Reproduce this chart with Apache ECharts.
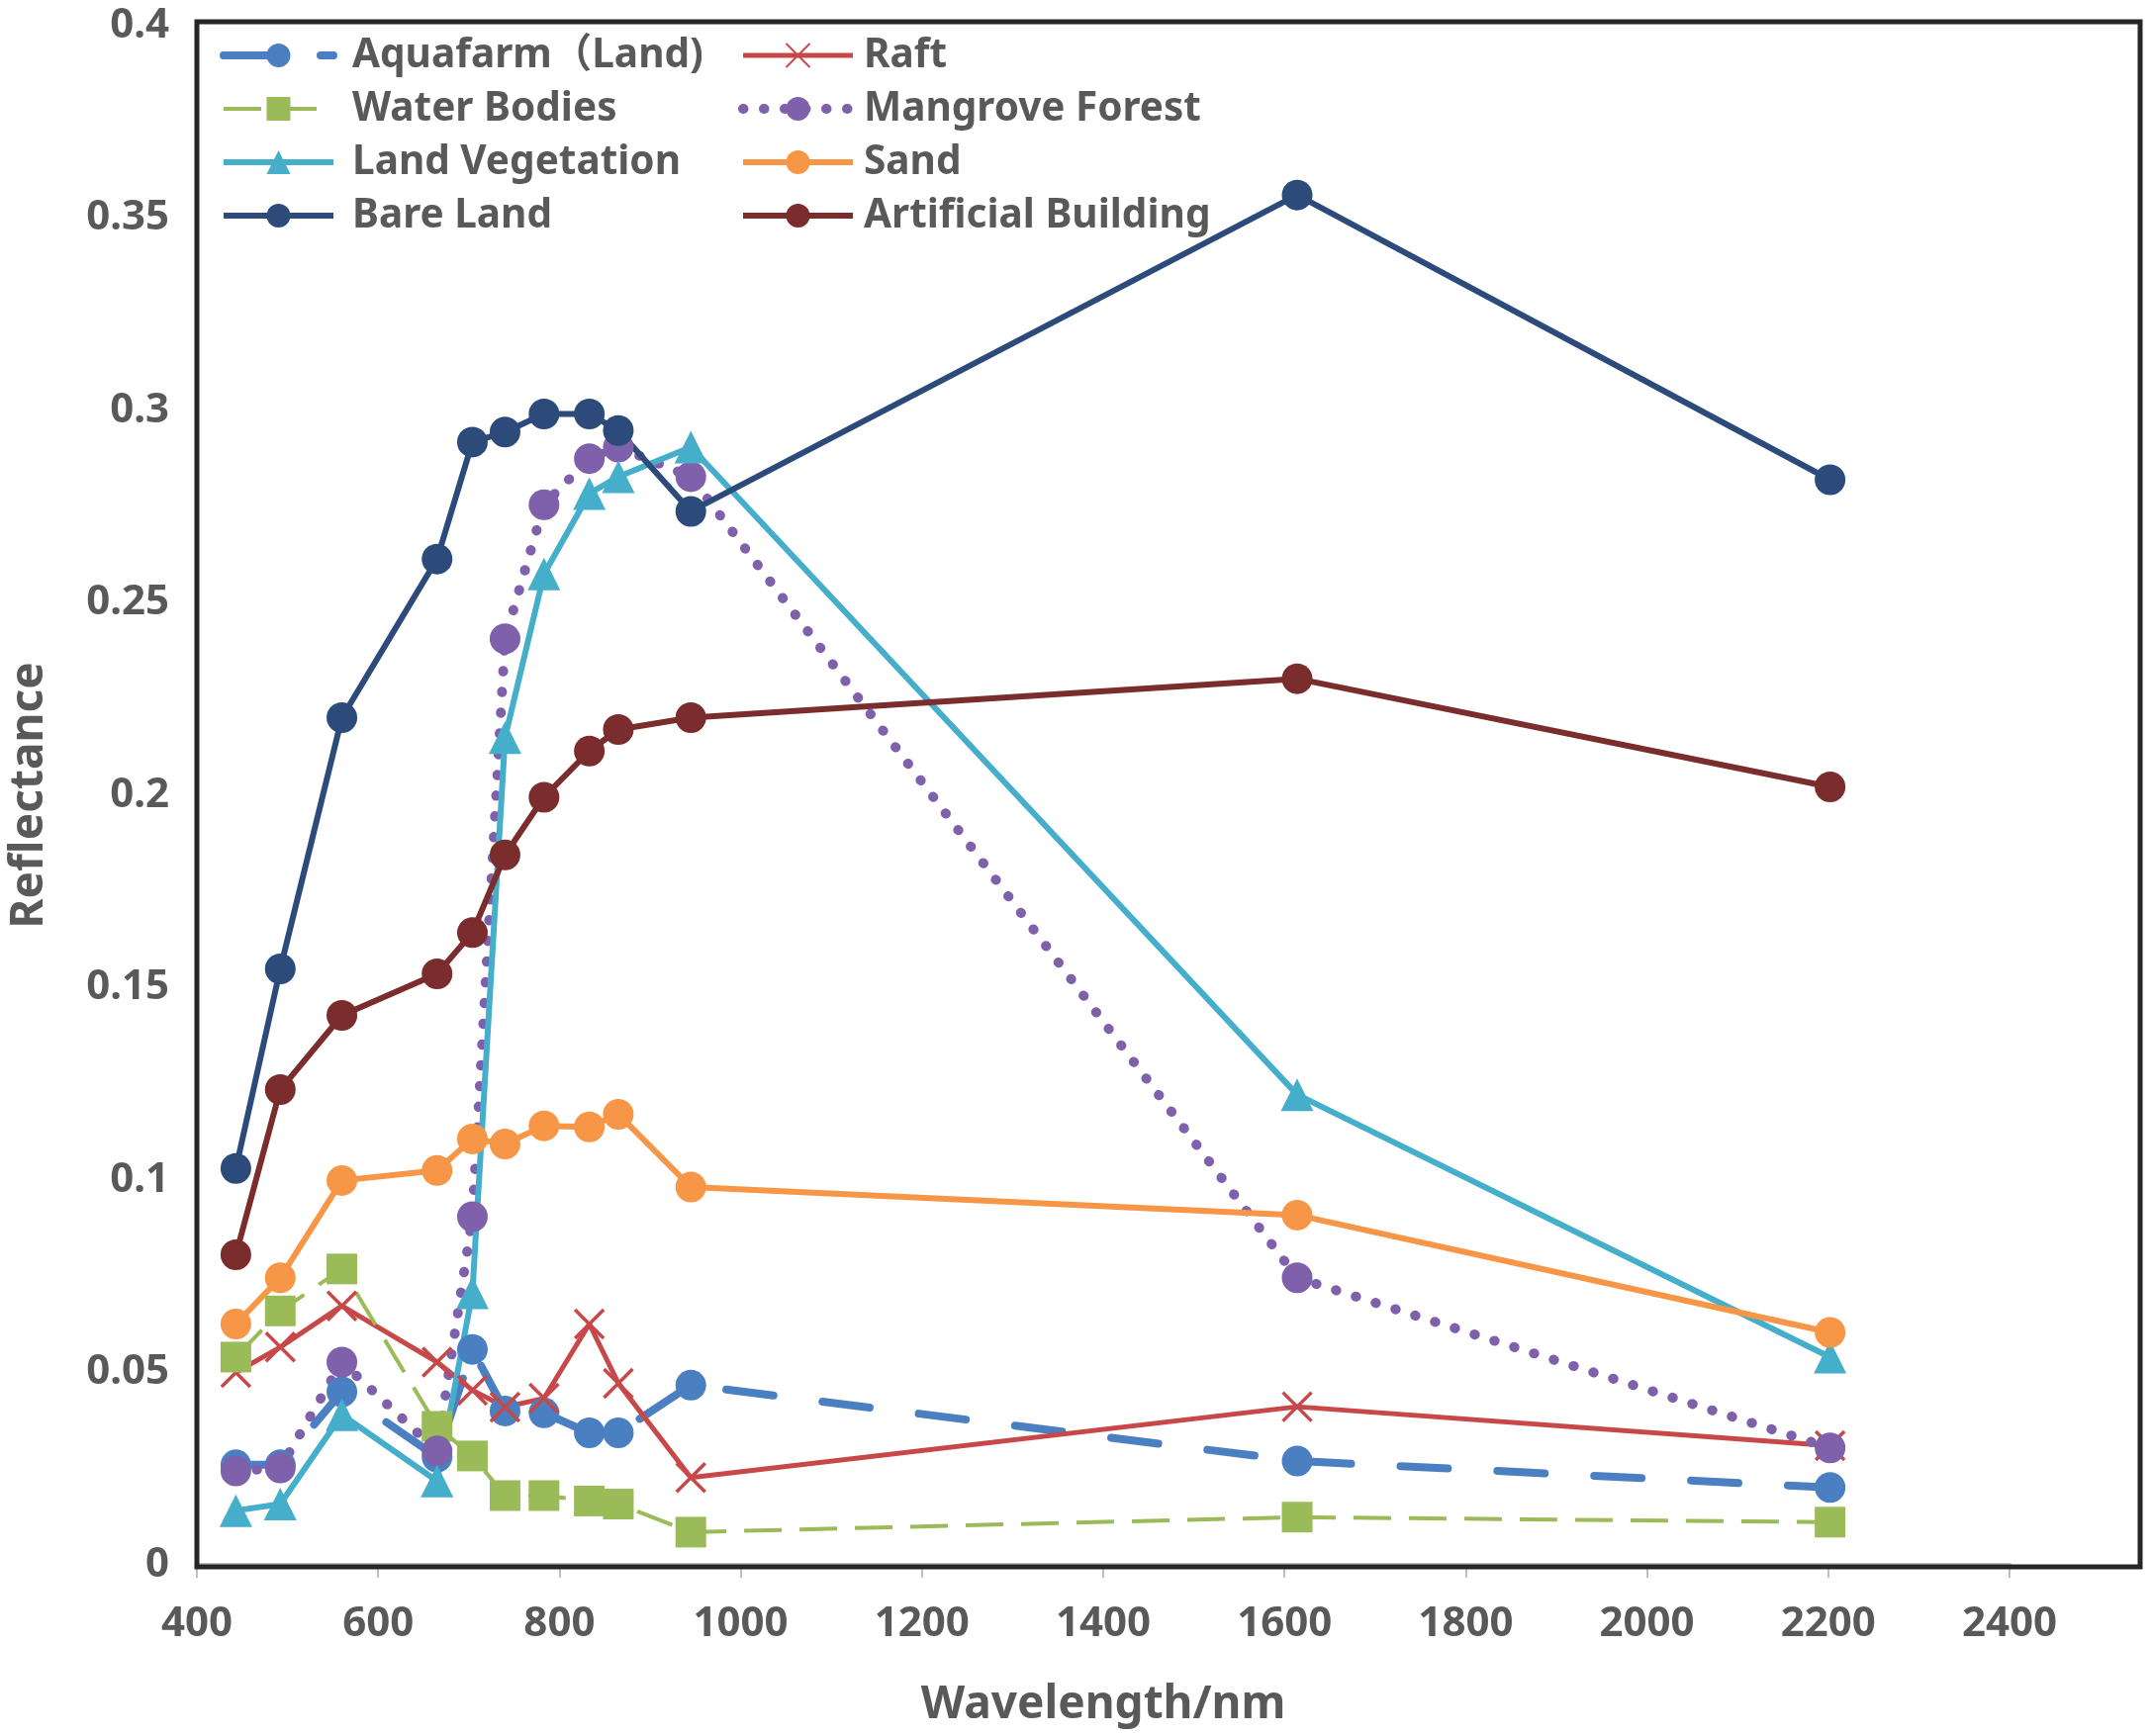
<!DOCTYPE html>
<html>
<head>
<meta charset="utf-8">
<script src="https://cdn.jsdelivr.net/npm/echarts@6/dist/echarts.min.js"></script>
<style>
html,body{margin:0;padding:0;background:#fff;}
#chart{width:2175px;height:1755px;}
</style>
</head>
<body>
<div id="chart"></div>
<script>
// Wavelengths (nm)
const wavelengths = [443, 492, 560, 665, 704, 740, 783, 833, 865, 945, 1614, 2202];
// Reflectance per class
const aquafarm   = [0.026, 0.026, 0.045, 0.028, 0.056, 0.040, 0.0395, 0.0343, 0.0343, 0.0467, 0.027, 0.0201];
const raft       = [0.050, 0.0566, 0.0673, 0.0527, 0.0454, 0.041, 0.0433, 0.0626, 0.0472, 0.0227, 0.0411, 0.031];
const water      = [0.054, 0.066, 0.0769, 0.036, 0.0283, 0.018, 0.018, 0.0166, 0.0158, 0.0085, 0.0124, 0.0111];
const mangrove   = [0.0244, 0.0252, 0.0527, 0.0296, 0.0905, 0.2407, 0.2755, 0.2875, 0.2905, 0.2828, 0.0746, 0.0304];
const landVeg    = [0.0141, 0.0158, 0.039, 0.0218, 0.0707, 0.215, 0.2575, 0.2784, 0.2828, 0.2905, 0.1222, 0.054];
const sand       = [0.0626, 0.0746, 0.0999, 0.1025, 0.1107, 0.1094, 0.1141, 0.1138, 0.1171, 0.0982, 0.0909, 0.0604];
const bareLand   = [0.103, 0.1549, 0.2202, 0.2614, 0.2918, 0.2944, 0.2991, 0.2991, 0.2948, 0.2738, 0.3560, 0.2820];
const artificial = [0.0806, 0.1235, 0.1428, 0.1536, 0.1643, 0.1845, 0.1995, 0.2115, 0.2171, 0.2202, 0.2303, 0.2022];

const names = ['Aquafarm（Land)', 'Raft', 'Water Bodies', 'Mangrove Forest', 'Land Vegetation', 'Sand', 'Bare Land', 'Artificial Building'];
const xTitle = 'Wavelength/nm';

const FONT = '"Noto Sans", "Noto Sans CJK SC", sans-serif';
const TXT = '#595959';

function pairs(vals){ return wavelengths.map((w,i)=>[w, vals[i]]); }

const xMark = 'path://M0,0 L10,10 M10,0 L0,10';

const seriesDefs = [
  {name:names[0], data:aquafarm, color:'#4a7fc1', symbol:'circle', size:31, lw:8, type:[48,50], cap:'round'},
  {name:names[1], data:raft, color:'#c8484a', symbol:xMark, size:29, lw:5, type:'solid', border:true},
  {name:names[2], data:water, color:'#9bbb59', symbol:'rect', size:31, lw:4, type:[38,18]},
  {name:names[3], data:mangrove, color:'#7e60ab', symbol:'circle', size:31, lw:10, type:[0.5,20.5], cap:'round'},
  {name:names[4], data:landVeg, color:'#45aecb', symbol:'triangle', size:33, lw:6},
  {name:names[5], data:sand, color:'#f79646', symbol:'circle', size:31, lw:6},
  {name:names[6], data:bareLand, color:'#2c4b7b', symbol:'circle', size:31, lw:6},
  {name:names[7], data:artificial, color:'#7b2c2c', symbol:'circle', size:31, lw:6}
];

const series = seriesDefs.map(d => ({
  name: d.name,
  type: 'line',
  data: pairs(d.data),
  symbol: d.symbol,
  symbolSize: d.size,
  showAllSymbol: true,
  z: 3,
  lineStyle: {color: d.color, width: d.lw, type: d.type || 'solid', cap: d.cap || 'butt'},
  itemStyle: d.border ? {color: 'rgba(0,0,0,0)', borderColor: d.color, borderWidth: 3.5} : {color: d.color, borderWidth: 0},
  emphasis: {disabled: true},
  animation: false
}));

const legendCommon = {
  orient: 'vertical',
  top: 34,
  padding: 0,
  itemWidth: 111,
  itemHeight: 30,
  itemGap: 10,
  lineStyle: {width: 'inherit', type: 'inherit', cap: 'inherit'},
  selectedMode: false
};
const legendText = pad => ({fontFamily: FONT, fontSize: 40.5, fontWeight: 'bold', color: TXT, lineHeight: 44, padding: [0, 0, 0, pad]});

const chart = echarts.init(document.getElementById('chart'));
chart.setOption({
  backgroundColor: '#fff',
  animation: false,
  graphic: [{
    type: 'rect',
    shape: {x: 199, y: 22, width: 1964, height: 1562},
    style: {fill: 'none', stroke: '#262626', lineWidth: 5},
    z: 1
  }, {
    type: 'text',
    x: 1115, y: 1724,
    style: {text: xTitle, fontFamily: FONT, fontSize: 46, fontWeight: 'bold', fill: TXT, align: 'center', verticalAlign: 'middle'},
    z: 2
  }],
  legend: [
    Object.assign({}, legendCommon, {left: 222, textStyle: legendText(14), data: [names[0], names[2], names[4], names[6]]}),
    Object.assign({}, legendCommon, {left: 746, textStyle: legendText(6), data: [names[1], names[3], names[5], names[7]]})
  ],
  grid: {left: 199, right: 144, top: 26, bottom: 173, containLabel: false, outerBoundsMode: 'none'},
  xAxis: {
    type: 'value',
    min: 400, max: 2400, interval: 200,
    axisLine: {show: true, lineStyle: {color: '#bfbfbf', width: 5}},
    axisTick: {show: true, length: 13, lineStyle: {color: '#bfbfbf', width: 2}},
    axisLabel: {fontFamily: FONT, fontSize: 42, fontWeight: 'bold', color: TXT, margin: 39,
      formatter: v => String(v)},
    splitLine: {show: false}
  },
  yAxis: {
    type: 'value',
    min: 0, max: 0.4, interval: 0.05,
    name: 'Reflectance',
    nameLocation: 'middle',
    nameGap: 146,
    nameRotate: 90,
    nameMoveOverlap: false,
    nameTextStyle: {fontFamily: FONT, fontSize: 46, fontWeight: 'bold', color: TXT},
    axisLine: {show: false},
    axisTick: {show: false},
    axisLabel: {fontFamily: FONT, fontSize: 42, fontWeight: 'bold', color: TXT, margin: 28,
      formatter: v => String(Math.round(v*100)/100)},
    splitLine: {show: false}
  },
  series: series
});
</script>
</body>
</html>
